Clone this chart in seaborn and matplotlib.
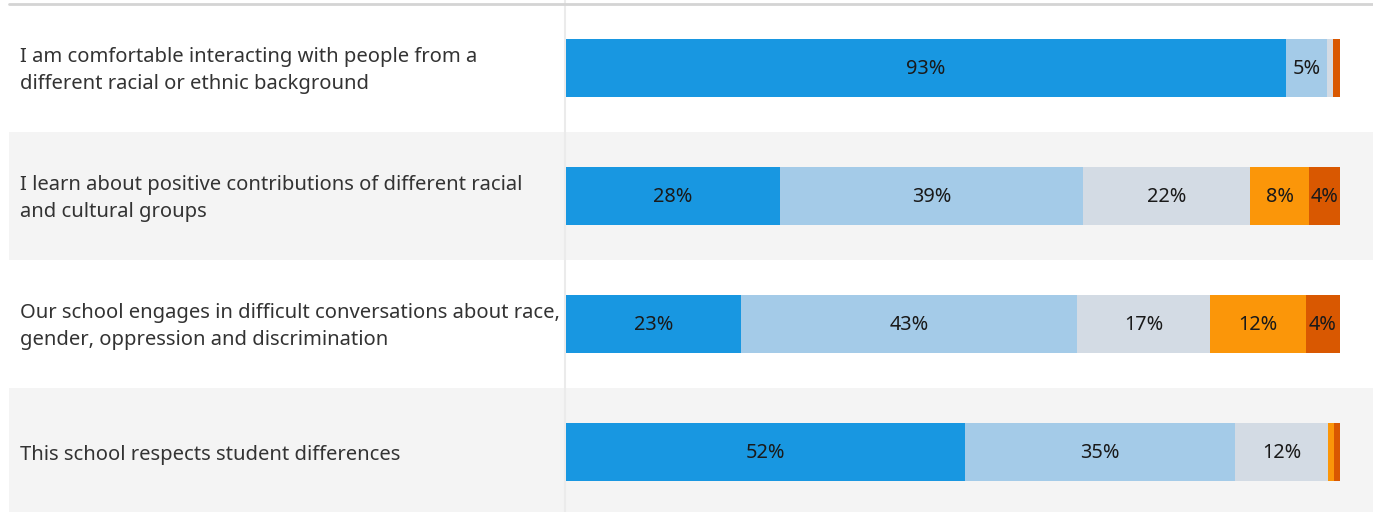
import matplotlib
matplotlib.use("Agg")
import matplotlib.pyplot as plt
import seaborn as sns
import pandas as pd
import numpy as np

# Survey statements (label text wrapped as displayed)
statements = [
    "I am comfortable interacting with people from a\ndifferent racial or ethnic background",
    "I learn about positive contributions of different racial\nand cultural groups",
    "Our school engages in difficult conversations about race,\ngender, oppression and discrimination",
    "This school respects student differences",
]
keys = ["s1", "s2", "s3", "s4"]

# Response shares (%) per statement, most positive to most negative
strongly_agree = [93.0, 27.6, 22.6, 51.6]
agree = [5.3, 39.2, 43.4, 34.8]
neutral = [0.8, 21.6, 17.2, 12.1]
disagree = [0.0, 7.6, 12.4, 0.75]
strongly_disagree = [0.9, 4.0, 4.4, 0.75]

series = [strongly_agree, agree, neutral, disagree, strongly_disagree]
colors = ["#1897e1", "#a4cbe8", "#d3dbe4", "#fb9609", "#d95801"]

W, H = 1373, 512
sns.set_theme(style="white")
plt.rcParams["font.family"] = ["Noto Sans", "DejaVu Sans"]

fig = plt.figure(figsize=(W / 100, H / 100), dpi=100)
ax = fig.add_axes([0, 0, 1, 1])

# Pixel mapping: bar 0% at x=566 px, 100% at x=1340 px; rows 128 px apart
px_per_unit = (1340 - 566) / 100.0
x_left = -566 / px_per_unit
x_right = (W - 566) / px_per_unit
row_px = 128.0
y_top = -68 / row_px
y_bot = (H - 68) / row_px

# Alternating row bands
for i in range(len(keys)):
    if i % 2 == 1:
        ax.axhspan(i - 0.5, i + 0.5, xmin=9 / W, xmax=1.0, color="#f4f4f4", lw=0, zorder=0)

# Stacked bars: draw cumulative totals from the full stack down to the first segment
arr = np.array(series)
cum = np.cumsum(arr, axis=0)
for k in range(len(series) - 1, -1, -1):
    df = pd.DataFrame({"key": keys, "value": cum[k]})
    sns.barplot(data=df, x="value", y="key", order=keys, orient="h",
                color=colors[k], saturation=1, width=0.455, ax=ax,
                linewidth=0, zorder=2)

# Value labels centred in segments
for k in range(len(series)):
    starts = cum[k] - arr[k]
    for i in range(len(keys)):
        v = arr[k][i]
        if v >= 3:
            ax.text(starts[i] + v / 2, i + 0.005, f"{round(v):d}%", ha="center", va="center",
                    fontsize=14.3, color="#1a1a1a", zorder=3)

# Statement labels
for i, s in enumerate(statements):
    ax.text(x_left + 20 / px_per_unit, i + 0.02, s, ha="left", va="center",
            fontsize=14.55, color="#333333", linespacing=1.45, zorder=3)

# Separator and top rule
ax.axvline(-1 / px_per_unit, color="#ebebeb", lw=1.5, zorder=1)
ax.axhline(-0.5, xmin=9 / W, xmax=1.0, color="#d4d4d4", lw=2, zorder=3)

ax.set_xlim(x_left, x_right)
ax.set_ylim(y_bot, y_top)
ax.set_xlabel("")
ax.set_ylabel("")
ax.set_xticks([])
ax.set_yticks([])
for sp in ax.spines.values():
    sp.set_visible(False)
ax.set_facecolor("white")
fig.patch.set_facecolor("white")

fig.savefig("out.png", dpi=100, facecolor="white")
